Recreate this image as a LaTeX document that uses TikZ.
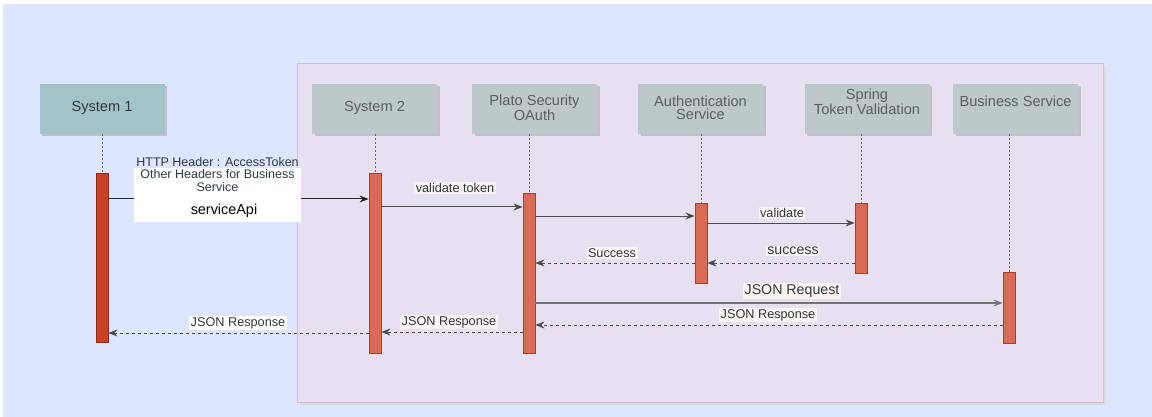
\documentclass[tikz,border=0pt]{standalone}
\usepackage{fontspec}
\setmainfont{Liberation Sans}
\usetikzlibrary{arrows.meta,shadows}
\definecolor{bgblue}{HTML}{DDE6FF}
\definecolor{framefill}{HTML}{E6E0F1}
\definecolor{frameline}{HTML}{D9BDCB}
\definecolor{hdrone}{HTML}{A2C4C9}
\definecolor{hdrother}{HTML}{BCC8C9}
\definecolor{hdrshadow}{HTML}{C6BDCB}
\definecolor{barone}{HTML}{CC4125}
\definecolor{baronedraw}{HTML}{8A2A15}
\definecolor{barother}{HTML}{DA6955}
\definecolor{barotherdraw}{HTML}{A53E2D}
\definecolor{txtdark}{HTML}{2F3A3C}
\definecolor{txtgrey}{HTML}{5A5F63}
\definecolor{msgline}{HTML}{4A4A4A}
\definecolor{lblbg}{HTML}{FBF2F2}
\tikzset{
  hdr/.style={rectangle, minimum width=125pt, minimum height=50pt, inner sep=0pt,
    fill=hdrother, draw=none, drop shadow={shadow xshift=2.5pt, shadow yshift=-2.5pt, fill=hdrshadow, opacity=1}},
  hdrtxt/.style={align=center, font=\fontsize{14.6}{13.5}\selectfont, text=txtgrey, inner sep=0pt},
  actbar/.style={rectangle, minimum width=12pt, inner sep=0pt, anchor=north, fill=barother, draw=barotherdraw, line width=0.8pt},
  lifeline/.style={draw=black!60, line width=1pt, dash pattern=on 2pt off 2pt},
  msg/.style={draw=msgline, line width=1pt, -{Stealth[length=9pt,width=7pt,inset=3pt]}},
  reply/.style={msg, dash pattern=on 3pt off 3pt},
  lbl/.style={fill=lblbg, inner sep=1.5pt, text=txtdark, font=\fontsize{12.7}{13}\selectfont},
  biglbl/.style={lbl, font=\fontsize{14.2}{14}\selectfont},
}
\begin{document}
\begin{tikzpicture}[x=1pt,y=-1pt]
\useasboundingbox (0,0) rectangle (1152,417);
\fill[white] (0,0) rectangle (1152,417);
\fill[bgblue] (3,4) rectangle (1152,417);
% container
\fill[hdrshadow!60] (300,67) rectangle (1106,405);
\draw[draw=frameline, fill=framefill, line width=1pt] (297,64) rectangle (1103,402);

% headers
\node[hdr, fill=hdrone] (h1) at (102,109) {};
\node[hdrtxt, text=txtdark] (t1) at (102,108) {System 1};
\node[hdr] (h2) at (374.5,109) {};
\node[hdrtxt] (t2) at (374.5,108) {System 2};
\node[hdr] (h3) at (534.5,109) {};
\node[hdrtxt] (t3) at (534.5,108) {Plato Security\\OAuth};
\node[hdr] (h4) at (700.5,109) {};
\node[hdrtxt] (t4) at (700.5,108) {Authentication\\Service};
\node[hdr] (h5) at (867,109) {};
\node[hdrtxt] (t5) at (867,101.5) {Spring\\Token Validation};
\node[hdr] (h6) at (1015.5,109) {};
\node[hdrtxt] (t6) at (1015.5,101) {Business Service};

% activation bars
\node[actbar, fill=barone, draw=baronedraw, minimum height=169pt] (b1) at (102,173) {};
\node[actbar, minimum height=180pt] (b2) at (375,173) {};
\node[actbar, minimum height=160pt] (b3) at (529,193) {};
\node[actbar, minimum height=80pt] (b4) at (701,203) {};
\node[actbar, minimum height=70pt] (b5) at (861,203) {};
\node[actbar, minimum height=71pt] (b6) at (1009,272) {};

% lifelines
\draw[lifeline] (b1.north |- h1.south) -- (b1.north);
\draw[lifeline] (b2.north |- h2.south) -- (b2.north);
\draw[lifeline] (b3.north |- h3.south) -- (b3.north);
\draw[lifeline] (b4.north |- h4.south) -- (b4.north);
\draw[lifeline] (b5.north |- h5.south) -- (b5.north);
\draw[lifeline] (b6.north |- h6.south) -- (b6.north);

% message 1 with big label
\draw[msg, draw=black!85] (b1.east |- 0,199) -- (b2.west |- 0,199);
\fill[white] (134,168) rectangle (301,222);
\node[align=center, inner sep=0pt, text=txtdark, font=\fontsize{12.5}{12.5}\selectfont] (m1) at (217.5,174.5)
  {HTTP Header : AccessToken\\Other Headers for Business\\Service};
\node[inner sep=0pt, text=black, font=\fontsize{14.4}{14}\selectfont] (m1b) at (224,211) {serviceApi};

% other messages
\draw[msg] (b2.east |- 0,207) -- (b3.west |- 0,207);
\node[lbl] (l2) at (455,188) {validate token};
\draw[msg] (b3.east |- 0,216) -- (b4.west |- 0,216);
\draw[msg] (b4.east |- 0,223) -- (b5.west |- 0,223);
\node[lbl] (l4) at (782,213) {validate};
\draw[reply] (b5.west |- 0,263) -- (b4.east |- 0,263);
\node[biglbl] (l5) at (793,251) {success};
\draw[reply] (b4.west |- 0,263) -- (b3.east |- 0,263);
\node[lbl] (l6) at (612,253) {Success};
\draw[msg, draw=black!55, line width=1.5pt] (b3.east |- 0,303) -- (b6.west |- 0,303);
\node[biglbl] (l7) at (792,291) {JSON Request};
\draw[reply] (b6.west |- 0,325) -- (b3.east |- 0,325);
\node[lbl] (l8) at (768,315) {JSON Response};
\draw[reply] (b3.west |- 0,332) -- (b2.east |- 0,332);
\node[lbl] (l9) at (449,322) {JSON Response};
\draw[reply] (b2.west |- 0,333) -- (b1.east |- 0,333);
\node[lbl, fill=white] (l10) at (238,323) {JSON Response};
\end{tikzpicture}
\end{document}
